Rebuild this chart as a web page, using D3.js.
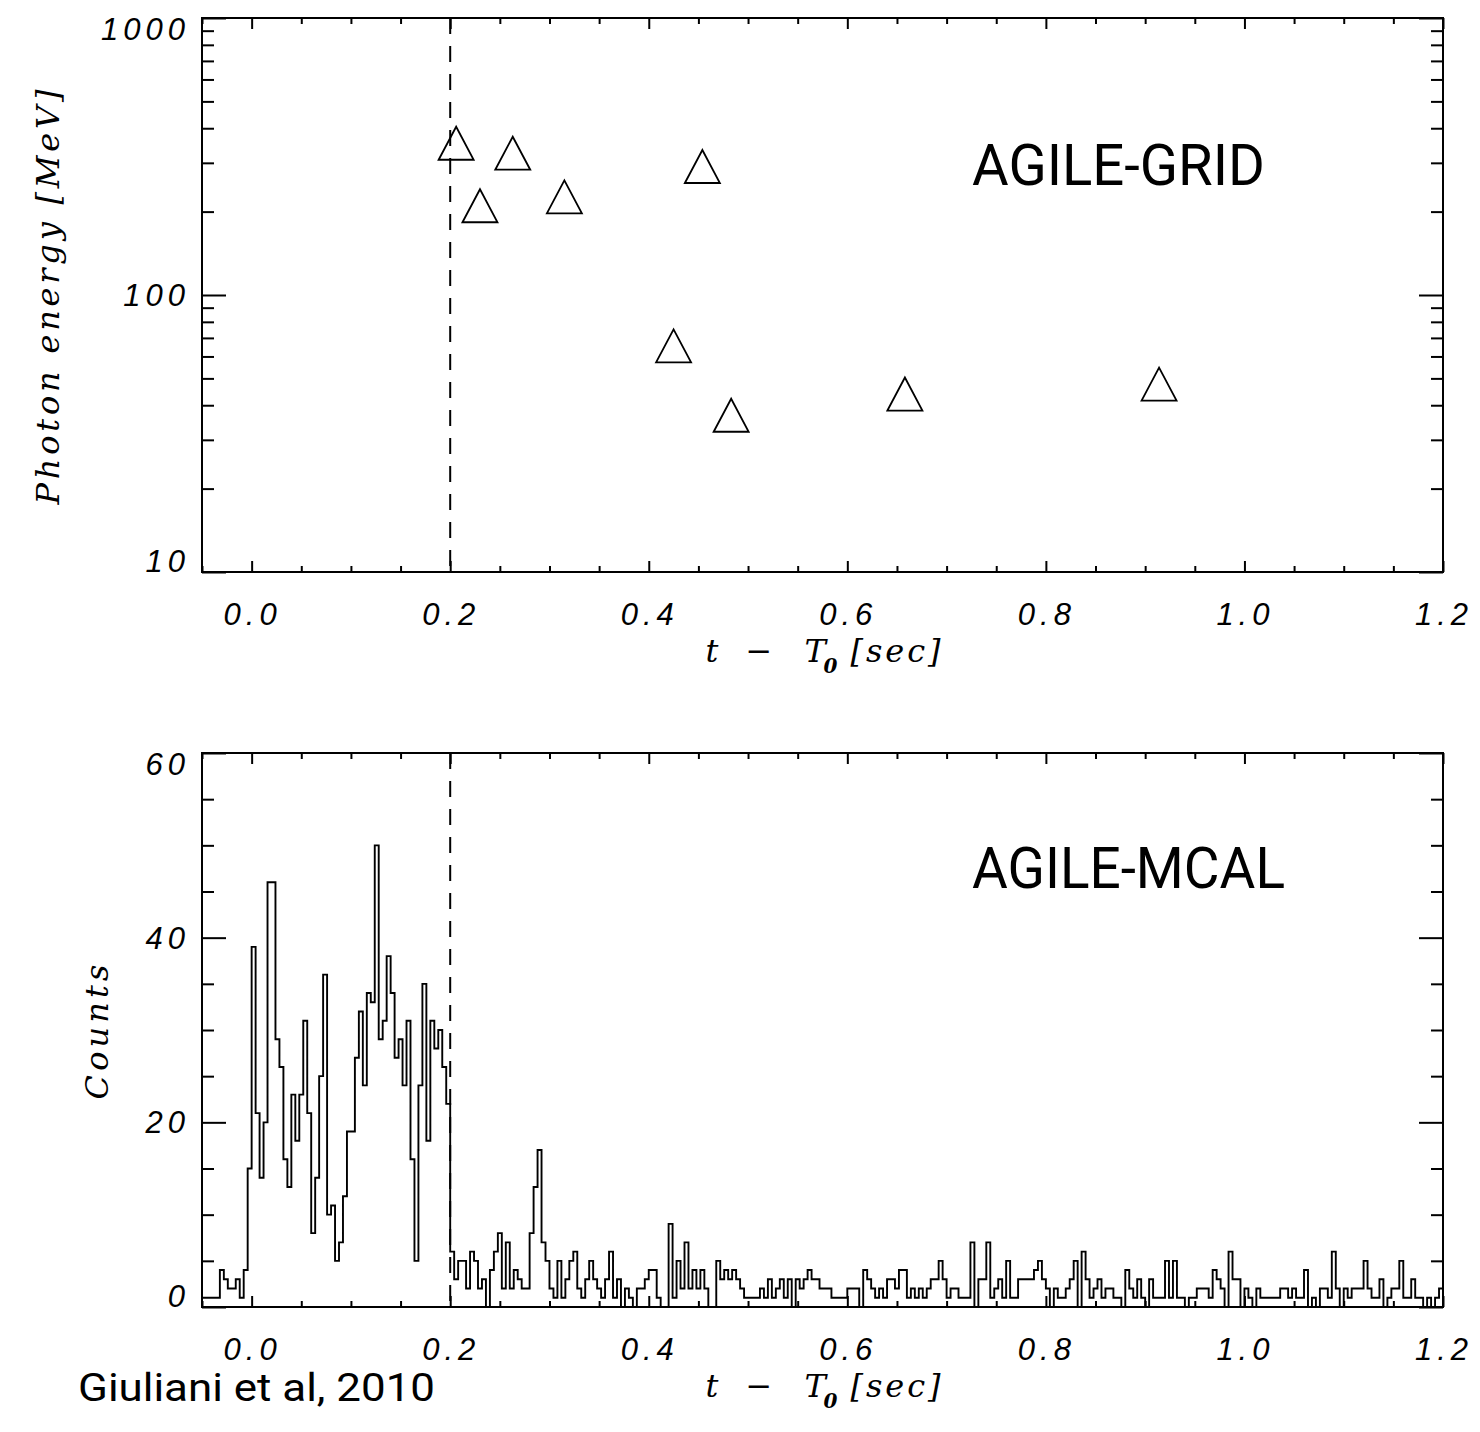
<!DOCTYPE html>
<html>
<head>
<meta charset="utf-8">
<script src="https://cdn.jsdelivr.net/npm/d3@7"></script>
<style>
  body { margin: 0; background: #fff; }
  text { fill: #000; }
  .tick-label { font-family: "Liberation Sans", sans-serif; font-style: italic; font-size: 31px; letter-spacing: 5px; }
  .axis-title { font-family: "DejaVu Serif", serif; font-style: italic; font-size: 32px; }
  .note { font-family: Roboto, sans-serif; }
</style>
</head>
<body>
<svg id="chart" width="1480" height="1432"></svg>
<script>
// data ----------------------------------------
var timeTicks = [0.0, 0.2, 0.4, 0.6, 0.8, 1.0, 1.2];
var timeTickLabels = ["0.0", "0.2", "0.4", "0.6", "0.8", "1.0", "1.2"];
var energyTicks = [10, 100, 1000];
var energyTickLabels = ["10", "100", "1000"];
var countTicks = [0, 20, 40, 60];
var countTickLabels = ["0", "20", "40", "60"];
var markerTime = 0.2;

// AGILE-GRID photons
var photonTime = [0.206, 0.230, 0.263, 0.315, 0.425, 0.454, 0.483, 0.658, 0.914];
var photonEnergy = [353, 210, 325, 226, 65.5, 291, 36.8, 43.9, 47.7];

// AGILE-MCAL light curve, 4 ms bins starting at binStart
var binStart = -0.052;
var binWidth = 0.004;
var mcalCounts = [
  1,
  1, 1, 1, 1, 4, 3, 2, 2, 3, 1, 4, 15,
  39, 21, 14, 20, 46, 46, 29, 26, 16, 13, 23, 18,
  23, 31, 21, 8, 14, 25, 36, 10, 11, 5, 7, 12,
  19, 19, 27, 32, 24, 34, 33, 50, 29, 31, 38, 34,
  27, 29, 24, 31, 16, 5, 24, 35, 18, 31, 28, 30, 26, 22,
  6, 3, 5, 5, 2, 6, 5, 2, 3, 0, 4, 6,
  8, 2, 7, 2, 4, 3, 2, 2, 8, 13, 17, 7,
  5, 2, 1, 5, 1, 3, 5, 6, 2, 1, 3, 5,
  3, 2, 1, 3, 6, 1, 3, 0, 2, 1, 0, 2,
  2, 3, 4, 4, 1, 0, 0, 9, 1, 5, 2, 7,
  2, 4, 2, 4, 2, 0, 0, 5, 3, 4, 3, 4, 3,
  2, 1, 1, 1, 1, 2, 1, 3, 1, 2, 3, 1,
  3, 0, 3, 2, 3, 4, 3, 3, 2, 2, 2, 1,
  1, 1, 1, 2, 2, 2, 0, 4, 3, 2, 1, 2,
  1, 3, 3, 2, 4, 4, 1, 2, 1, 2, 1, 2, 3,
  3, 5, 3, 1, 2, 2, 1, 1, 1, 7, 0, 3,
  3, 7, 1, 2, 3, 1, 5, 1, 1, 3, 3, 3,
  3, 4, 5, 3, 2, 0, 2, 1, 1, 2, 3, 5,
  0, 6, 3, 1, 2, 3, 1, 2, 2, 1, 1, 0,
  4, 2, 1, 3, 1, 0, 3, 1, 1, 1, 5, 1, 5, 1, 1,
  0, 1, 1, 2, 2, 2, 1, 4, 3, 2, 0, 6,
  3, 3, 0, 2, 1, 0, 2, 1, 1, 1, 1, 1,
  2, 2, 1, 2, 1, 1, 4, 0, 1, 0, 2, 2,
  1, 6, 2, 0, 2, 1, 2, 2, 2, 5, 2, 1,
  1, 3, 0, 1, 2, 2, 5, 1, 1, 3, 1, 1,
  0, 1, 0, 1, 2
];

// layout ----------------------------------------
var svg = d3.select("#chart");
var plotLeft = 202, plotRight = 1443;
var topPanel = { top: 18, bottom: 572 };
var botPanel = { top: 753, bottom: 1307 };

var x = d3.scaleLinear().domain([-0.05, 1.2]).range([plotLeft, plotRight]);
var yE = d3.scaleLog().domain([10, 1000]).range([topPanel.bottom, topPanel.top]);
var yC = d3.scaleLinear().domain([0, 60]).range([botPanel.bottom, botPanel.top]);

var xMinor = d3.range(-0.05, 1.2001, 0.05).filter(function(v) { return Math.round(v * 100) % 20 !== 0; });
var eMinor = yE.ticks().filter(function(v) { return energyTicks.indexOf(v) < 0; });
var cMinor = d3.range(0, 61, 5).filter(function(v) { return v % 20 !== 0; });

function cleanAxis(g) {
  g.select(".domain").remove();
  g.selectAll(".tick text").remove();
  g.selectAll(".tick line").attr("stroke", "#000").attr("stroke-width", 2);
}

// Frame + ticks on all four sides
function drawFrame(panel, y, yMajor, yMinor) {
  var g = svg.append("g");
  var ax = [
    [d3.axisBottom(x).tickValues(timeTicks).tickSize(-11), "translate(0," + panel.bottom + ")"],
    [d3.axisBottom(x).tickValues(xMinor).tickSize(-6), "translate(0," + panel.bottom + ")"],
    [d3.axisTop(x).tickValues(timeTicks).tickSize(-11), "translate(0," + panel.top + ")"],
    [d3.axisTop(x).tickValues(xMinor).tickSize(-6), "translate(0," + panel.top + ")"],
    [d3.axisLeft(y).tickValues(yMajor).tickSize(-24), "translate(" + plotLeft + ",0)"],
    [d3.axisLeft(y).tickValues(yMinor).tickSize(-12), "translate(" + plotLeft + ",0)"],
    [d3.axisRight(y).tickValues(yMajor).tickSize(-24), "translate(" + plotRight + ",0)"],
    [d3.axisRight(y).tickValues(yMinor).tickSize(-12), "translate(" + plotRight + ",0)"]
  ];
  ax.forEach(function(a) {
    g.append("g").attr("transform", a[1]).call(a[0]).call(cleanAxis);
  });
  g.append("rect")
    .attr("x", plotLeft).attr("y", panel.top)
    .attr("width", plotRight - plotLeft).attr("height", panel.bottom - panel.top)
    .attr("fill", "none").attr("stroke", "#000").attr("stroke-width", 2);

  // x tick labels
  g.selectAll(".xl").data(timeTicks).enter().append("text")
    .attr("class", "tick-label")
    .attr("x", function(d) { return x(d) + 1; })
    .attr("y", panel.bottom + 53)
    .attr("text-anchor", "middle")
    .text(function(d, i) { return timeTickLabels[i]; });

  // dashed marker
  g.append("line")
    .attr("x1", x(markerTime)).attr("x2", x(markerTime))
    .attr("y1", panel.top).attr("y2", panel.bottom)
    .attr("stroke", "#000").attr("stroke-width", 2)
    .attr("stroke-dasharray", "16,12");

  // time axis title
  var cx = (plotLeft + plotRight) / 2, ty = panel.bottom + 90;
  g.append("text").attr("class", "axis-title").attr("x", cx - 117).attr("y", ty).text("t");
  g.append("text").attr("class", "axis-title").attr("x", cx - 77).attr("y", ty).text("\u2212");
  g.append("text").attr("class", "axis-title").attr("x", cx - 18).attr("y", ty).text("T");
  g.append("text").attr("class", "axis-title").attr("x", cx + 1).attr("y", ty + 11)
    .style("font-size", "20px").style("font-weight", "bold").text("0");
  g.append("text").attr("class", "axis-title").attr("x", cx + 28).attr("y", ty)
    .attr("textLength", 90).attr("lengthAdjust", "spacing").text("[sec]");
  return g;
}

function yLabels(g, y, ticks, labels) {
  var n = ticks.length;
  g.selectAll(".yl").data(ticks).enter().append("text")
    .attr("class", "tick-label")
    .attr("text-anchor", "end")
    .attr("x", 190)
    .attr("y", function(d, i) {
      if (i === 0) return y(d);
      if (i === n - 1) return y(d) + 22;
      return y(d) + 11;
    })
    .text(function(d, i) { return labels[i]; });
}

// Top panel: photon energies ----------------------------------------
var gTop = drawFrame(topPanel, yE, energyTicks, eMinor);
yLabels(gTop, yE, energyTicks, energyTickLabels);

gTop.selectAll(".photon").data(photonTime).enter().append("path")
  .attr("d", function(d, i) {
    var cx = x(d), cy = yE(photonEnergy[i]);
    return "M" + (cx - 17.5) + "," + (cy + 16.5) + "L" + cx + "," + (cy - 16.5) +
      "L" + (cx + 17.5) + "," + (cy + 16.5) + "Z";
  })
  .attr("fill", "none").attr("stroke", "#000").attr("stroke-width", 1.8);

gTop.append("text").attr("class", "axis-title")
  .attr("transform", "translate(59,297) rotate(-90)")
  .attr("text-anchor", "middle")
  .attr("textLength", 415).attr("lengthAdjust", "spacing")
  .text("Photon energy [MeV]");

svg.append("text").attr("class", "note")
  .attr("x", 972).attr("y", 185)
  .style("font-size", "58px")
  .attr("textLength", 293).attr("lengthAdjust", "spacingAndGlyphs")
  .text("AGILE-GRID");

// Bottom panel: MCAL counts ----------------------------------------
var gBot = drawFrame(botPanel, yC, countTicks, cMinor);
yLabels(gBot, yC, countTicks, countTickLabels);

svg.append("clipPath").attr("id", "clipBot").append("rect")
  .attr("x", plotLeft).attr("y", botPanel.top)
  .attr("width", plotRight - plotLeft).attr("height", botPanel.bottom - botPanel.top);

var steps = mcalCounts.map(function(c, i) { return [binStart + i * binWidth, c]; });
steps.push([binStart + mcalCounts.length * binWidth, mcalCounts[mcalCounts.length - 1]]);

var stepLine = d3.line()
  .x(function(d) { return x(d[0]); })
  .y(function(d) { return yC(d[1]); })
  .curve(d3.curveStepAfter);

gBot.append("path")
  .attr("clip-path", "url(#clipBot)")
  .attr("d", stepLine(steps))
  .attr("fill", "none").attr("stroke", "#000").attr("stroke-width", 1.9);

gBot.append("text").attr("class", "axis-title")
  .attr("transform", "translate(108,1032) rotate(-90)")
  .attr("text-anchor", "middle")
  .attr("textLength", 135).attr("lengthAdjust", "spacing")
  .text("Counts");

svg.append("text").attr("class", "note")
  .attr("x", 78).attr("y", 1401)
  .style("font-size", "38px")
  .attr("textLength", 357).attr("lengthAdjust", "spacingAndGlyphs")
  .text("Giuliani et al, 2010");
svg.append("text").attr("class", "note")
  .attr("x", 972).attr("y", 888)
  .style("font-size", "58px")
  .attr("textLength", 313).attr("lengthAdjust", "spacingAndGlyphs")
  .text("AGILE-MCAL");
</script>
</body>
</html>
